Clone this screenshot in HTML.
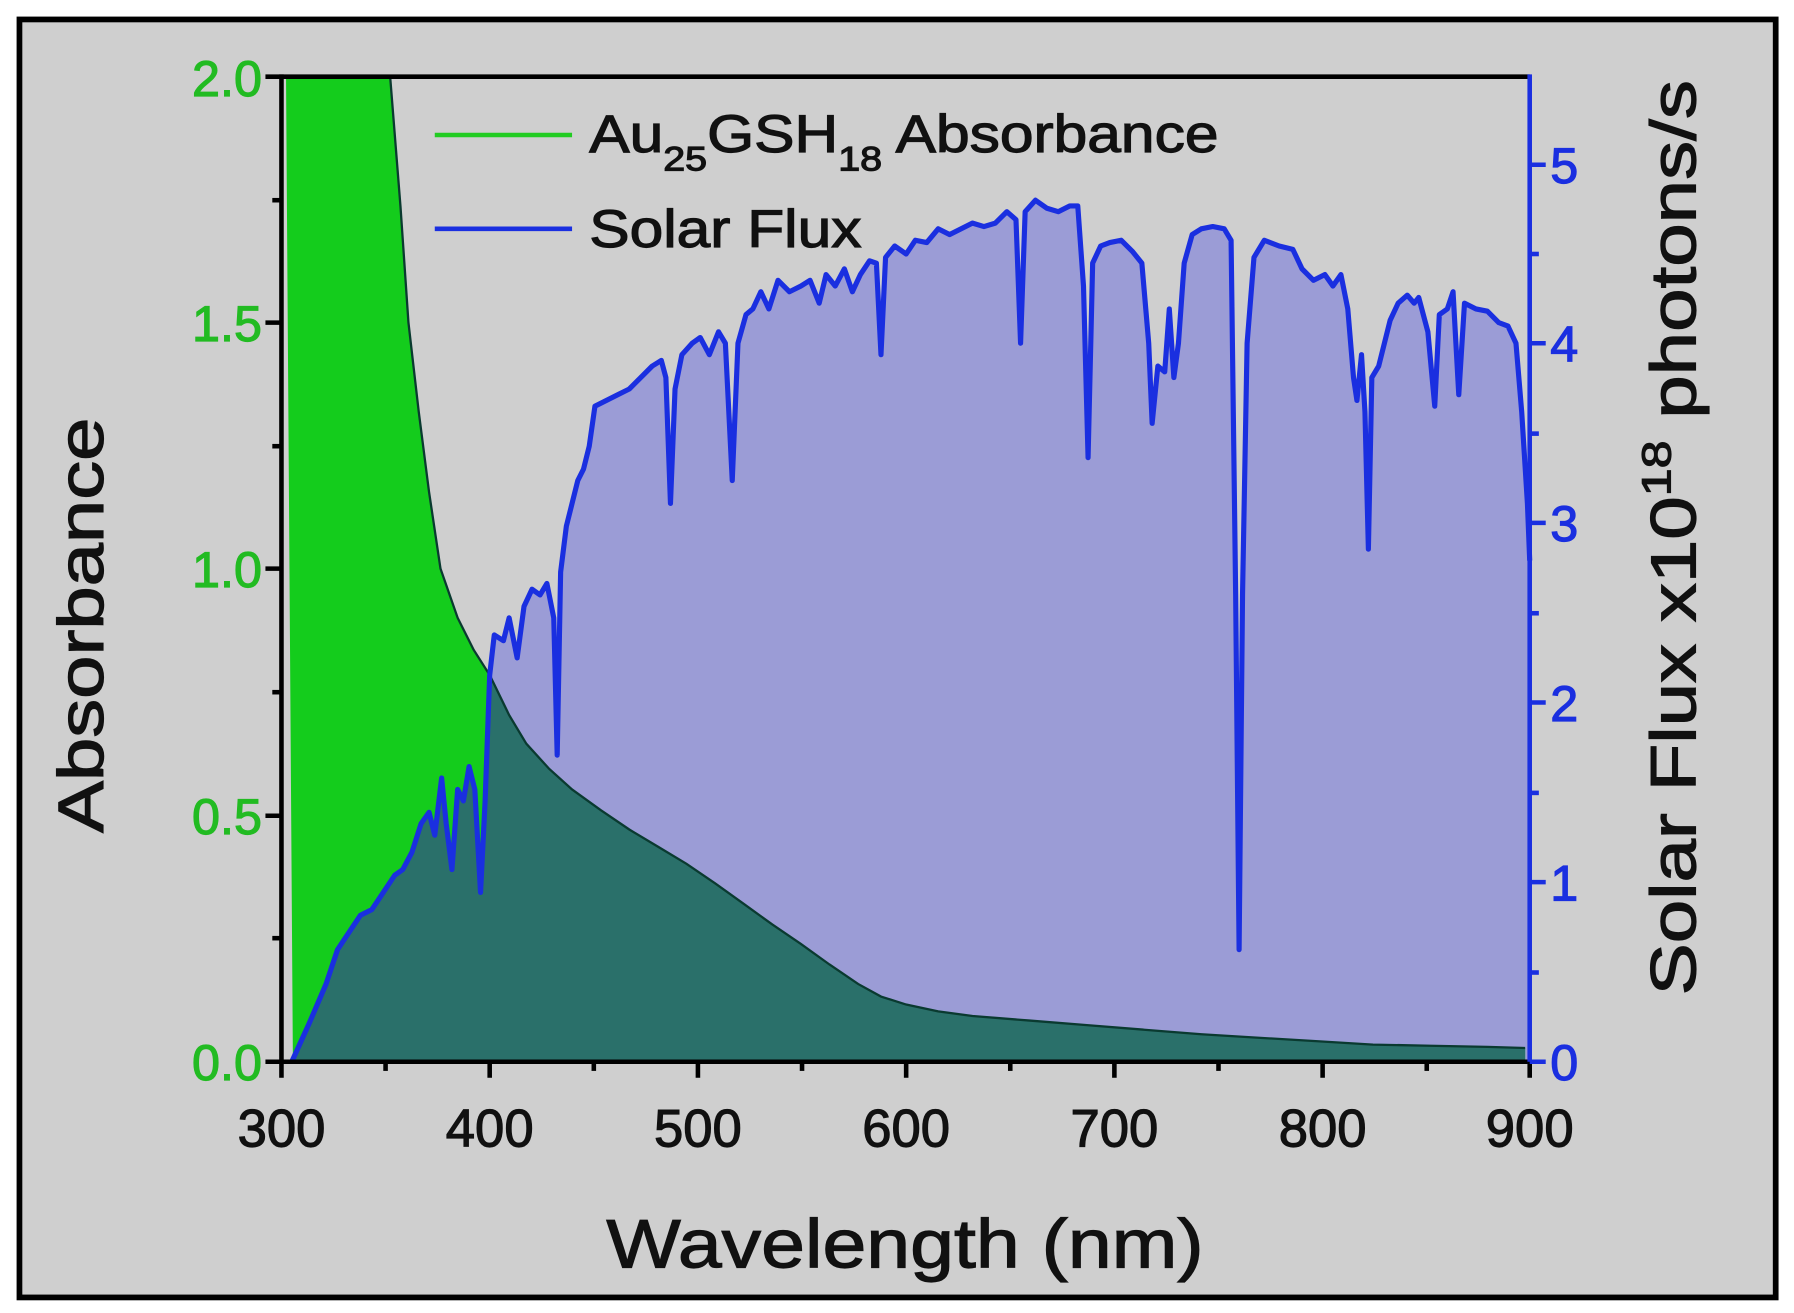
<!DOCTYPE html>
<html><head><meta charset="utf-8"><style>
html,body{margin:0;padding:0;background:#fff;}
svg{display:block;}
text{font-family:"Liberation Sans",sans-serif;}
</style></head><body>
<svg width="1794" height="1313" viewBox="0 0 1568 1147.6" preserveAspectRatio="none" xmlns="http://www.w3.org/2000/svg">
<defs>
<path id="bp" d="M255,928 L270,895 L285,860 L295,830 L305,815 L315,800 L325,795 L335,780 L345,765 L352,760 L360,745 L368,720 L375,710 L380,730 L386,680 L390,720 L395,760 L400,690 L405,700 L410,670 L415,690 L420,780 L424,700 L428,590 L432,555 L440,560 L445,540 L452,575 L458,530 L465,515 L472,520 L478,510 L484,540 L487,660 L490,500 L495,460 L500,440 L505,420 L510,410 L515,390 L520,355 L530,350 L540,345 L550,340 L560,330 L570,320 L578,315 L582,330 L586,440 L590,340 L596,310 L605,300 L612,295 L620,310 L628,290 L634,300 L640,420 L645,300 L652,275 L658,270 L665,255 L672,270 L680,245 L690,255 L700,250 L708,245 L716,265 L722,240 L730,250 L738,235 L745,255 L752,240 L760,228 L766,230 L770,310 L774,225 L782,215 L792,222 L800,210 L810,212 L820,200 L830,205 L840,200 L850,195 L860,198 L870,195 L880,185 L888,192 L892,300 L896,185 L905,175 L915,182 L925,185 L935,180 L942,180 L947,250 L951,400 L955,230 L962,215 L970,212 L980,210 L990,220 L998,230 L1004,300 L1007,370 L1012,320 L1018,325 L1022,270 L1026,330 L1030,300 L1035,230 L1042,205 L1050,200 L1060,198 L1070,200 L1076,210 L1080,520 L1083,830 L1086,520 L1090,300 L1096,225 L1105,210 L1118,215 L1130,218 L1138,235 L1148,245 L1158,240 L1165,250 L1172,240 L1178,270 L1183,330 L1186,350 L1190,310 L1193,360 L1196,480 L1199,330 L1205,320 L1210,300 L1215,280 L1222,265 L1230,258 L1236,265 L1240,260 L1248,290 L1254,355 L1258,275 L1265,270 L1270,255 L1275,345 L1280,265 L1290,270 L1300,272 L1310,282 L1318,285 L1325,300 L1330,360 L1335,440 L1337,490 L1337,928 Z"/>
<clipPath id="blueclip"><use href="#bp"/></clipPath>
<path id="gp" d="M256,928 L250,67 L341,67 L350,180 L357,282 L366,360 L375,430 L385,497 L400,540 L414,568 L428,590 L445,625 L460,650 L480,672 L500,690 L525,708 L550,725 L575,740 L600,755 L625,772 L650,790 L675,808 L700,825 L725,843 L750,860 L770,871 L792,878 L820,884 L850,888 L900,892 L950,896 L1000,900 L1050,904 L1100,907 L1150,910 L1200,913 L1250,914 L1300,915 L1333,916 L1333,928 Z"/>
</defs>
<rect x="0" y="0" width="1568" height="1148" fill="#ffffff"/>
<rect x="17" y="17" width="1535" height="1117" fill="#cfcfcf" stroke="#000" stroke-width="5"/>
<use href="#bp" fill="#9b9cd6"/>
<use href="#gp" fill="#14cc1c"/>
<use href="#gp" fill="#2a706a" clip-path="url(#blueclip)"/>
<path d="M341,67 L350,180 L357,282 L366,360 L375,430 L385,497 L400,540 L414,568 L428,590 L445,625 L460,650 L480,672 L500,690 L525,708 L550,725 L575,740 L600,755 L625,772 L650,790 L675,808 L700,825 L725,843 L750,860 L770,871 L792,878 L820,884 L850,888 L900,892 L950,896 L1000,900 L1050,904 L1100,907 L1150,910 L1200,913 L1250,914 L1300,915 L1333,916" fill="none" stroke="#0a3a30" stroke-width="2"/>
<path d="M255,928 L270,895 L285,860 L295,830 L305,815 L315,800 L325,795 L335,780 L345,765 L352,760 L360,745 L368,720 L375,710 L380,730 L386,680 L390,720 L395,760 L400,690 L405,700 L410,670 L415,690 L420,780 L424,700 L428,590 L432,555 L440,560 L445,540 L452,575 L458,530 L465,515 L472,520 L478,510 L484,540 L487,660 L490,500 L495,460 L500,440 L505,420 L510,410 L515,390 L520,355 L530,350 L540,345 L550,340 L560,330 L570,320 L578,315 L582,330 L586,440 L590,340 L596,310 L605,300 L612,295 L620,310 L628,290 L634,300 L640,420 L645,300 L652,275 L658,270 L665,255 L672,270 L680,245 L690,255 L700,250 L708,245 L716,265 L722,240 L730,250 L738,235 L745,255 L752,240 L760,228 L766,230 L770,310 L774,225 L782,215 L792,222 L800,210 L810,212 L820,200 L830,205 L840,200 L850,195 L860,198 L870,195 L880,185 L888,192 L892,300 L896,185 L905,175 L915,182 L925,185 L935,180 L942,180 L947,250 L951,400 L955,230 L962,215 L970,212 L980,210 L990,220 L998,230 L1004,300 L1007,370 L1012,320 L1018,325 L1022,270 L1026,330 L1030,300 L1035,230 L1042,205 L1050,200 L1060,198 L1070,200 L1076,210 L1080,520 L1083,830 L1086,520 L1090,300 L1096,225 L1105,210 L1118,215 L1130,218 L1138,235 L1148,245 L1158,240 L1165,250 L1172,240 L1178,270 L1183,330 L1186,350 L1190,310 L1193,360 L1196,480 L1199,330 L1205,320 L1210,300 L1215,280 L1222,265 L1230,258 L1236,265 L1240,260 L1248,290 L1254,355 L1258,275 L1265,270 L1270,255 L1275,345 L1280,265 L1290,270 L1300,272 L1310,282 L1318,285 L1325,300 L1330,360 L1335,440 L1337,490" fill="none" stroke="#1a2fe0" stroke-width="4.5" stroke-linejoin="round"/>
<line x1="246" y1="67" x2="1337" y2="67" stroke="#000" stroke-width="4"/>
<line x1="246" y1="65" x2="246" y2="930" stroke="#000" stroke-width="4"/>
<line x1="244" y1="928" x2="1337" y2="928" stroke="#000" stroke-width="4"/>
<line x1="1337" y1="65" x2="1337" y2="930" stroke="#1a2fe0" stroke-width="4"/>
<g stroke="#000" stroke-width="4">
<line x1="232" y1="67" x2="246" y2="67"/><line x1="238" y1="175" x2="246" y2="175"/>
<line x1="232" y1="282" x2="246" y2="282"/><line x1="238" y1="390" x2="246" y2="390"/>
<line x1="232" y1="497" x2="246" y2="497"/><line x1="238" y1="605" x2="246" y2="605"/>
<line x1="232" y1="713" x2="246" y2="713"/><line x1="238" y1="820" x2="246" y2="820"/>
<line x1="232" y1="928" x2="246" y2="928"/>
<line x1="246" y1="928" x2="246" y2="942"/><line x1="337" y1="928" x2="337" y2="936"/>
<line x1="428" y1="928" x2="428" y2="942"/><line x1="519" y1="928" x2="519" y2="936"/>
<line x1="610" y1="928" x2="610" y2="942"/><line x1="701" y1="928" x2="701" y2="936"/>
<line x1="792" y1="928" x2="792" y2="942"/><line x1="883" y1="928" x2="883" y2="936"/>
<line x1="974" y1="928" x2="974" y2="942"/><line x1="1065" y1="928" x2="1065" y2="936"/>
<line x1="1156" y1="928" x2="1156" y2="942"/><line x1="1247" y1="928" x2="1247" y2="936"/>
<line x1="1337" y1="928" x2="1337" y2="942"/>
</g>
<g stroke="#1a2fe0" stroke-width="4">
<line x1="1337" y1="928" x2="1351" y2="928"/><line x1="1337" y1="850" x2="1345" y2="850"/>
<line x1="1337" y1="771" x2="1351" y2="771"/><line x1="1337" y1="693" x2="1345" y2="693"/>
<line x1="1337" y1="614" x2="1351" y2="614"/><line x1="1337" y1="536" x2="1345" y2="536"/>
<line x1="1337" y1="457" x2="1351" y2="457"/><line x1="1337" y1="379" x2="1345" y2="379"/>
<line x1="1337" y1="300" x2="1351" y2="300"/><line x1="1337" y1="222" x2="1345" y2="222"/>
<line x1="1337" y1="144" x2="1351" y2="144"/>
</g>
<g fill="#22bb22" font-size="44" text-anchor="end" stroke="#22bb22" stroke-width="1">
<text x="229" y="84">2.0</text><text x="229" y="298">1.5</text><text x="229" y="513">1.0</text><text x="229" y="729">0.5</text><text x="229" y="944">0.0</text>
</g>
<g fill="#1a2fe0" font-size="44" stroke="#1a2fe0" stroke-width="1">
<text x="1355" y="944">0</text><text x="1355" y="787">1</text><text x="1355" y="630">2</text><text x="1355" y="473">3</text><text x="1355" y="316">4</text><text x="1355" y="160">5</text>
</g>
<g fill="#111" font-size="46" text-anchor="middle" stroke="#111" stroke-width="1">
<text x="246" y="1002">300</text><text x="428" y="1002">400</text><text x="610" y="1002">500</text><text x="792" y="1002">600</text><text x="974" y="1002">700</text><text x="1156" y="1002">800</text><text x="1337" y="1002">900</text>
</g>
<text x="530" y="1108" font-size="60" fill="#111" stroke="#111" stroke-width="1" textLength="522" lengthAdjust="spacingAndGlyphs">Wavelength (nm)</text>
<text transform="translate(90,728) rotate(-90)" font-size="56" fill="#111" stroke="#111" stroke-width="1" textLength="363" lengthAdjust="spacingAndGlyphs">Absorbance</text>
<text transform="translate(1482,870) rotate(-90)" font-size="56" fill="#111" stroke="#111" stroke-width="1" textLength="800" lengthAdjust="spacingAndGlyphs">Solar Flux x10<tspan font-size="36" dy="-22">18</tspan><tspan dy="22"> photons/s</tspan></text>
<line x1="380" y1="118" x2="500" y2="118" stroke="#22cc22" stroke-width="4"/>
<text x="515" y="133" font-size="46" fill="#111" stroke="#111" stroke-width="1" textLength="550" lengthAdjust="spacingAndGlyphs">Au<tspan font-size="30" dy="16">25</tspan><tspan dy="-16">GSH</tspan><tspan font-size="30" dy="16">18</tspan><tspan dy="-16"> Absorbance</tspan></text>
<line x1="380" y1="200" x2="500" y2="200" stroke="#1a2fe0" stroke-width="4"/>
<text x="515" y="216" font-size="46" fill="#111" stroke="#111" stroke-width="1" textLength="238" lengthAdjust="spacingAndGlyphs">Solar Flux</text>
</svg>
</body></html>
